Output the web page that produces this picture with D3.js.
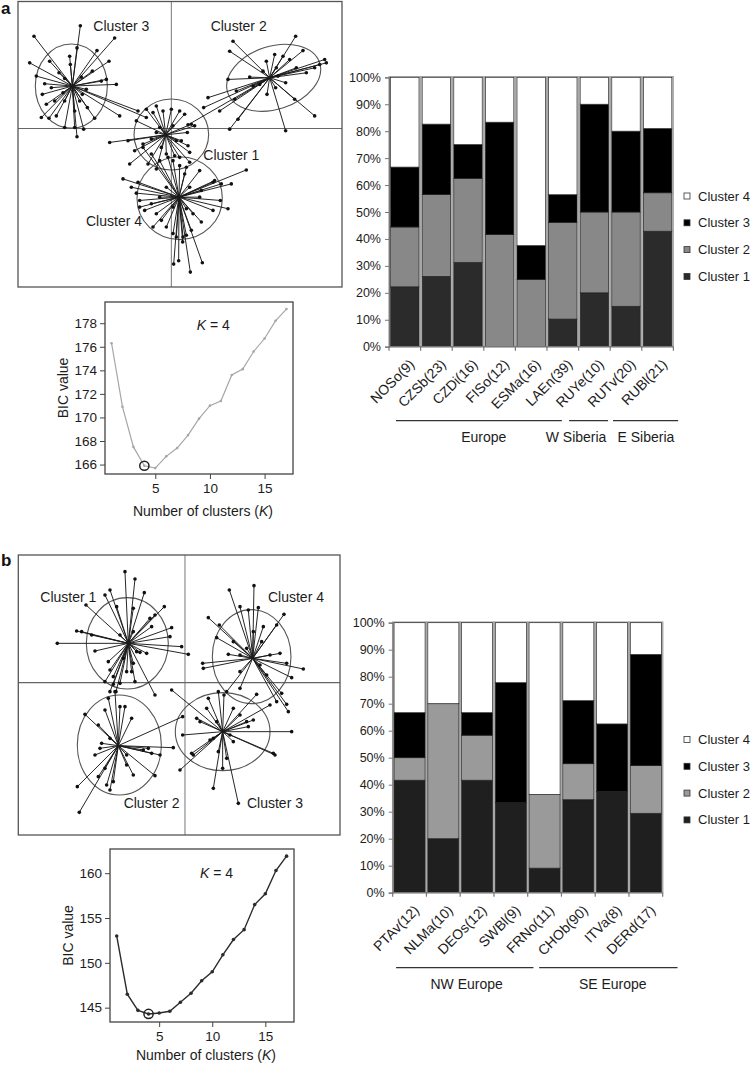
<!DOCTYPE html>
<html>
<head>
<meta charset="utf-8">
<script src="https://cdn.jsdelivr.net/npm/d3@7"></script>
<style>
  body { margin: 0; background: #fff; }
  svg { display: block; font-family: "Liberation Sans", Arial, Helvetica, sans-serif; }
</style>
</head>
<body>
<svg id="fig" width="753" height="1065"></svg>
<script>
/* ---------- panel a : cluster scores (PC1, PC2) ---------- */
const aCenters = [[-1.7, -1.9], [29.5, 15.3], [-29.7, 12.8], [2.3, -20.7]];
const aEllipses = [[0, -1.8, 11.2, 10.7, 0], [30.7, 15.3, 14.5, 9.5, -18], [-30, 12.8, 10.8, 12.7, 0], [2.5, -21, 12.8, 12.5, 0]];
const aPts1 = [[-4.5,6.8],[-2.5,5.3],[0,5.8],[2.5,5.3],[4,4.3],[6,1.3],[7,0.8],[4.8,-1.2],[3,-3.7],[5,-5.2],[5.5,-7.2],[5.5,-10.2],[2.5,-8.7],[1,-8.2],[-1.5,-7.7],[-3,-5.7],[-6,-3.2],[-8.5,-4.7],[-11,-6.7],[-12.5,-10.7],[-5.5,4.8],[-7.5,5.8],[-10.5,2.3],[-13,-3.7],[-18.5,-4.2],[-7,-10.7],[-4.5,-12.2],[-3.5,0.3],[0.5,0.8],[-4.5,-1.2],[1.5,-3.7]];
const aPts2 = [[18.5,26.3],[17.5,23.3],[37.3,27.8],[39.5,23.5],[31,22.3],[33.5,21.8],[35.5,20.8],[46,20.8],[46.5,19.8],[43,18.3],[40.5,16.8],[37.5,18.3],[34.3,13.8],[31.3,12.3],[28.7,10.3],[37,8.8],[43,3.8],[34.3,-0.7],[17.5,-0.2],[19.5,11.3],[19,8.8],[14.5,5.3],[11,9.3],[9.7,6.3],[17,14.8],[23.5,15.5],[24.5,12.8],[32,15.8],[28.5,20.3],[5,1.1],[20,2.8],[44.5,19.3],[27.5,17.3],[31.5,18.3],[26.5,13.3]];
const aPts3 = [[-27.3,31],[-17,27.3],[-41.2,27.8],[-42.5,19.8],[-22.3,23.5],[-18.7,20.3],[-28.3,24.3],[-30.5,21.8],[-30.3,19.3],[-36.5,20.3],[-38,13.5],[-38.7,10.3],[-37.5,7.3],[-39,3.3],[-36.7,3.1],[-32,0.3],[-28.3,-2.5],[-26.3,-0.2],[-23,3.1],[-25.2,6.3],[-19.5,14.8],[-21,14.3],[-25.5,11.8],[-33.7,16.8],[-36,12.3],[-35,8.3],[-32,8.3],[-27.5,8.3],[-34.5,3.8],[-29,0.3],[-16.5,13.3],[-15.5,3.8],[-10,5.3],[-7.5,3.3],[-40.5,15.8],[-23.7,17.3],[-32,15.1],[-27,15.5],[-32.5,10.8],[-26.7,10.3],[-29,5.3]];
const aPts4 = [[-14.5,-15.2],[-10,-16.2],[-10.5,-19.5],[-9.5,-21.7],[-8,-24.7],[-6,-22.7],[-4.5,-25.7],[-3,-27.7],[-1.5,-29.7],[0.5,-31.7],[1.5,-32.7],[3.5,-32.7],[4.5,-32.2],[6,-30.7],[9,-28.2],[6.5,-25.7],[12.5,-24.7],[17,-24.2],[14.7,-21.7],[18,-16.7],[15,-16.7],[12.5,-16.2],[22.5,-12.5],[9,-18.7],[8.5,-20.7],[4,-13.7],[2.5,-11.2],[0.5,-9.7],[-1,-8.7],[-3.5,-9.7],[-6,-7.7],[-8.5,-5.7],[4.5,-11.7],[8.5,-12.7],[13,-15.7],[-12,-17.7],[-9.5,-23.7],[-5.5,-29.7],[0.7,-40.9],[2.2,-39.9],[5.7,-43.3],[9.3,-40.5],[3.4,-34.2],[-1.5,-17.7],[5.5,-17.7],[0.5,-23.7],[4.5,-24.2],[-3.5,-20.7]];

/* ---------- panel b : cluster scores ---------- */
const bCenters = [[-17, 11.8], [-20, -18.9], [11.3, -14.7], [20.3, 7.3]];
const bEllipses = [[-17.3, 11.8, 12.3, 13.7, 0], [-19.7, -18.7, 12.6, 15, 0], [11.3, -14.7, 14.2, 11.7, 0], [20, 7.8, 11.8, 14.1, 0]];
const bPts1 = [[-18,33.3],[-15,31.1],[-22.5,27.8],[-24,26.3],[-12.2,27],[-29.7,23.3],[-20.5,22.8],[-15.5,22.3],[-6.2,22.8],[-9,20.3],[-10.5,19.3],[-10,16.8],[-4,16.5],[-4.5,13.8],[-1,10.8],[1,8.5],[-11.5,8.8],[-13.5,9.1],[-38.3,11.8],[-32.5,15.5],[-31,15.3],[-28,14.3],[-27,9.5],[-23,6.3],[-22.5,3.8],[-24,0.3],[-21.5,-0.5],[-19.5,-0.2],[-17.5,3.3],[-15,0.3],[-9,-3.7],[-22.5,-2.7],[-20.7,-2.7],[-16,3.3],[-15.5,5.8],[-18.5,7.3],[-21.5,1.8],[-15.5,15.3],[-19.5,14.3],[-14.5,9.3]];
const bPts2 = [[-23,-4.7],[-21,-2.7],[-19.5,-7.2],[-18,-7.2],[-24,-8.2],[-30,-9.5],[-26,-12.7],[-25,-18.2],[-27,-21.7],[-25.5,-19.7],[-16,-10.7],[-11,-19.7],[-10,-21.2],[-12.5,-20.2],[-9,-27.9],[-15.5,-27.7],[-21.5,-29.7],[-22.5,-32.2],[-23.5,-30.7],[-26,-28.2],[-32.3,-31.2],[-31.7,-38.9],[-17.5,-24.7],[-3.5,-19.5],[-0.7,-10.2],[-7.5,-21.7],[-24,-25.7],[-22.5,-16.7],[-17.5,-21.7]];
const bPts3 = [[-4,-2.2],[7,-4.7],[10,-2.7],[11.7,-3.7],[14.5,-7.7],[18.5,-11.7],[19,-13.2],[16.5,-9.7],[21.5,-3.5],[32,-14.7],[26.5,-21.2],[27,-21.7],[16,-36.2],[8.5,-31.7],[11.3,-25.7],[12.5,-22.7],[10,-20.7],[2.5,-21.7],[2,-21.2],[-1.5,-26.2],[-0.7,-15.7],[4.5,-11.7],[3.5,-10.7],[6.5,-7.7],[13.5,-15.7],[7.5,-17.2],[25.5,-6.7],[20.5,-11.2],[9.5,-11.7],[14.5,-17.7],[8.5,-16.7]];
const bPts4 = [[13.3,27.8],[20.7,29.1],[16.5,22.8],[19,21.8],[22,22.5],[29.7,20.5],[27.5,17.3],[23.5,16.8],[7,19.5],[10.3,17.3],[9.5,13.5],[13,8.5],[5.3,5.8],[5.5,4.3],[28.5,8.8],[30.5,5.8],[35.5,4.1],[32,1.5],[29,-3.2],[30.5,-6.5],[31,-8.7],[27.5,-5.7],[12.5,-2.7],[16.5,-1.7],[24.5,2.3],[16.5,3.3],[14.5,12.3],[20.5,15.3],[23,12.3],[25.5,8.3],[18.5,10.3],[22.5,5.3],[16.5,8.3]];

/* ---------- BIC curves ---------- */
const kValues = d3.range(1, 18);
const bicA = [176.3, 170.9, 167.5, 165.9, 165.7, 166.7, 167.4, 168.5, 169.9, 171.0, 171.4, 173.6, 174.1, 175.6, 176.7, 178.2, 179.2];
const bicB = [153.0, 146.5, 144.7, 144.3, 144.4, 144.6, 145.6, 146.6, 148.0, 149.0, 150.9, 152.6, 153.7, 156.5, 157.7, 160.3, 161.9];
const bicTicksA = [166, 168, 170, 172, 174, 176, 178];
const bicTicksB = [145, 150, 155, 160];

/* ---------- population membership counts ---------- */
const clusterNames = ['Cluster 1', 'Cluster 2', 'Cluster 3', 'Cluster 4'];
const popsA = ['NOSo(9)', 'CZSb(23)', 'CZDi(16)', 'FISo(12)', 'ESMa(16)', 'LAEn(39)', 'RUYe(10)', 'RUTv(20)', 'RUBl(21)'];
const c1A = [2, 6, 5, 0, 0, 4, 2, 3, 9];
const c2A = [2, 7, 5, 5, 4, 14, 3, 7, 3];
const c3A = [2, 6, 2, 5, 2, 4, 4, 6, 5];
const c4A = [3, 4, 4, 2, 10, 17, 1, 4, 4];
const groupsA = ['Europe', 'W Siberia', 'E Siberia'];

const popsB = ['PTAv(12)', 'NLMa(10)', 'DEOs(12)', 'SWBl(9)', 'FRNo(11)', 'CHOb(90)', 'ITVa(8)', 'DERd(17)'];
const c1B = [5, 2, 5, 3, 1, 31, 3, 5];
const c2B = [1, 5, 2, 0, 3, 12, 0, 3];
const c3B = [2, 0, 1, 4, 0, 21, 2, 7];
const c4B = [4, 3, 4, 2, 7, 26, 3, 2];
const groupsB = ['NW Europe', 'SE Europe'];

const pctTicks = d3.range(0, 1.01, 0.1);
const INK = '#1c1c1c';
const svg = d3.select('#fig');

/* bracket extents under the bars, in bar steps: [start, end, label centre] */
const bracketsA = [[0.22, 5.47, 3.0], [5.7, 6.93, 5.92], [7.09, 9.15, 8.13]];
const bracketsB = [[0.1, 4.17, 2.19], [4.34, 8.44, 6.52]];

/* ================================================================ */
function scatter(o) {
  const g = svg.append('g');
  const x = d3.scaleLinear().domain(o.xd).range(o.xr);
  const y = d3.scaleLinear().domain(o.yd).range(o.yr);
  const k = Math.abs(x(1) - x(0)), ky = Math.abs(y(1) - y(0));

  g.append('line').attr('x1', x(0)).attr('x2', x(0)).attr('y1', o.yr[0]).attr('y2', o.yr[1])
    .attr('stroke', '#777').attr('stroke-width', 1);
  g.append('line').attr('x1', o.xr[0]).attr('x2', o.xr[1]).attr('y1', y(0)).attr('y2', y(0))
    .attr('stroke', '#666').attr('stroke-width', 1.2);

  o.ellipses.forEach(e => {
    g.append('ellipse').attr('cx', x(e[0])).attr('cy', y(e[1]))
      .attr('rx', e[2] * k).attr('ry', e[3] * ky)
      .attr('transform', `rotate(${e[4]},${x(e[0])},${y(e[1])})`)
      .attr('fill', 'none').attr('stroke', '#555').attr('stroke-width', 1.1);
  });

  o.points.forEach((pts, i) => {
    const c = o.centers[i];
    g.append('g').selectAll('line').data(pts).join('line')
      .attr('x1', x(c[0])).attr('y1', y(c[1]))
      .attr('x2', d => x(d[0])).attr('y2', d => y(d[1]))
      .attr('stroke', '#1a1a1a').attr('stroke-width', 0.95);
  });
  o.points.forEach(pts => {
    g.append('g').selectAll('circle').data(pts).join('circle')
      .attr('cx', d => x(d[0])).attr('cy', d => y(d[1])).attr('r', 1.8).attr('fill', '#111');
  });

  g.append('rect').attr('x', o.xr[0]).attr('y', o.yr[0])
    .attr('width', o.xr[1] - o.xr[0]).attr('height', o.yr[1] - o.yr[0])
    .attr('fill', 'none').attr('stroke', '#555').attr('stroke-width', 1.3);

  o.labels.forEach((p, i) => {
    g.append('text').attr('x', x(p[0])).attr('y', y(p[1])).attr('dy', '.35em')
      .attr('text-anchor', 'middle').style('font-size', '14px').attr('fill', INK)
      .text(clusterNames[i]);
  });
}

function bicPlot(o) {
  const g = svg.append('g');
  const x = d3.scaleLinear().domain(o.xd).range([o.box[0], o.box[1]]);
  const y = d3.scaleLinear().domain(o.yd).range([o.box[3], o.box[2]]);

  g.append('rect').attr('x', o.box[0]).attr('y', o.box[2])
    .attr('width', o.box[1] - o.box[0]).attr('height', o.box[3] - o.box[2])
    .attr('fill', 'none').attr('stroke', '#444').attr('stroke-width', 1.3);

  const ax = g.append('g').attr('transform', `translate(${o.box[0]},0)`)
    .call(d3.axisLeft(y).tickValues(o.ticks).tickSize(5).tickPadding(3));
  const bx = g.append('g').attr('transform', `translate(0,${o.box[3]})`)
    .call(d3.axisBottom(x).tickValues([5, 10, 15]).tickSize(5).tickPadding(4));
  [ax, bx].forEach(a => {
    a.select('.domain').remove();
    a.selectAll('line').attr('stroke', '#444');
    a.selectAll('text').style('font-size', '13.5px').attr('fill', INK)
      .style('font-family', '"Liberation Sans", Arial, sans-serif');
  });

  const line = d3.line().x((d, i) => x(kValues[i])).y(d => y(d));
  g.append('path').datum(o.values).attr('d', line).attr('fill', 'none')
    .attr('stroke', o.color).attr('stroke-width', o.lw);
  g.selectAll('circle.pt').data(o.values).join('circle').attr('class', 'pt')
    .attr('cx', (d, i) => x(kValues[i])).attr('cy', d => y(d)).attr('r', o.r).attr('fill', o.color);
  g.append('circle').attr('cx', x(kValues[3])).attr('cy', y(o.values[3])).attr('r', 4.6)
    .attr('fill', 'none').attr('stroke', '#222').attr('stroke-width', 1.5);

  const kt = g.append('text').attr('x', x(o.kpos[0])).attr('y', y(o.kpos[1])).attr('dy', '.35em')
    .attr('text-anchor', 'middle').style('font-size', '14px').attr('fill', INK);
  kt.append('tspan').style('font-style', 'italic').text('K');
  kt.append('tspan').text(' = 4');

  g.append('text').attr('transform', `translate(${o.box[0] - 42},${(o.box[2] + o.box[3]) / 2}) rotate(-90)`)
    .attr('text-anchor', 'middle').attr('dy', '.35em').style('font-size', '14px').attr('fill', INK)
    .text('BIC value');
  const xl = g.append('text').attr('x', (o.box[0] + o.box[1]) / 2 + 4).attr('y', o.box[3] + o.titleDy)
    .attr('text-anchor', 'middle').style('font-size', '14px').attr('fill', INK);
  xl.append('tspan').text('Number of clusters (');
  xl.append('tspan').style('font-style', 'italic').text('K');
  xl.append('tspan').text(')');
}

function stackedBars(o) {
  const g = svg.append('g');
  const x = d3.scaleBand().domain(o.pops).range(o.xr).paddingInner(o.pad).paddingOuter(o.pad / 2);
  const y = d3.scaleLinear().domain([0, 1]).range(o.yr);
  const rows = o.pops.map((p, i) => {
    const counts = o.counts.map(c => c[i]);
    const n = d3.sum(counts);
    const r = { pop: p };
    clusterNames.forEach((c, j) => r[c] = counts[j] / n);
    return r;
  });
  const series = d3.stack().keys(clusterNames)(rows);

  // bar outlines
  g.append('g').selectAll('rect').data(rows).join('rect')
    .attr('x', d => x(d.pop) - 1.3).attr('y', y(1) - 0.5)
    .attr('width', x.bandwidth() + 2.6).attr('height', y(0) - y(1) + 0.5)
    .attr('fill', 'none').attr('stroke', '#a8a8a8').attr('stroke-width', 1.6);

  series.forEach((s, j) => {
    g.append('g').selectAll('rect').data(s).join('rect')
      .attr('x', d => x(d.data.pop)).attr('width', x.bandwidth())
      .attr('y', d => y(d[1])).attr('height', d => y(d[0]) - y(d[1]))
      .attr('fill', o.colors[j]).attr('stroke', '#222').attr('stroke-width', 0.7);
  });

  // y axis
  const ya = g.append('g').attr('transform', `translate(${o.xr[0]},0)`)
    .call(d3.axisLeft(y).tickValues(pctTicks).tickFormat(d3.format('.0%')).tickSize(4).tickPadding(4));
  ya.select('.domain').attr('stroke', '#777').attr('stroke-width', 1.3);
  ya.selectAll('line').attr('stroke', '#777');
  ya.selectAll('text').style('font-size', '12.5px').attr('fill', INK)
    .style('font-family', '"Liberation Sans", Arial, sans-serif');

  // x axis with ticks at bar boundaries
  g.append('line').attr('x1', o.xr[0]).attr('x2', o.xr[1]).attr('y1', y(0)).attr('y2', y(0))
    .attr('stroke', '#777').attr('stroke-width', 1.3);
  const bounds = d3.range(o.pops.length + 1).map(i => o.xr[0] + i * x.step());
  g.append('g').selectAll('line').data(bounds).join('line')
    .attr('x1', d => d).attr('x2', d => d).attr('y1', y(0)).attr('y2', y(0) + 4)
    .attr('stroke', '#777').attr('stroke-width', 1.2);

  g.append('g').selectAll('text').data(o.pops).join('text')
    .attr('transform', d => `translate(${x(d) + x.bandwidth() / 2 + 7},${y(0) + 15}) rotate(-45)`)
    .attr('text-anchor', 'end').attr('dy', '.35em').style('font-size', '14px').attr('fill', INK)
    .text(d => d);

  // region brackets
  const gy = y(0) + o.groupDy;
  o.groups.forEach((name, i) => {
    const [s, e, c] = o.brackets[i];
    const x1 = o.xr[0] + s * x.step(), x2 = o.xr[0] + e * x.step();
    g.append('line').attr('x1', x1).attr('x2', x2).attr('y1', gy).attr('y2', gy)
      .attr('stroke', '#333').attr('stroke-width', 1.3);
    g.append('text').attr('x', o.xr[0] + c * x.step()).attr('y', gy + 16).attr('dy', '.35em')
      .attr('text-anchor', 'middle').style('font-size', '14px').attr('fill', INK).text(name);
  });

  // legend
  const lg = g.append('g');
  clusterNames.slice().reverse().forEach((c, i) => {
    const j = clusterNames.length - 1 - i;
    const ly = o.legendY + i * 26.8;
    lg.append('rect').attr('x', 684).attr('y', ly - 3).attr('width', 6).attr('height', 6)
      .attr('fill', o.colors[j]).attr('stroke', '#333').attr('stroke-width', 0.8);
    lg.append('text').attr('x', 698).attr('y', ly).attr('dy', '.35em')
      .style('font-size', '13px').attr('fill', INK).text(c);
  });
}

/* ================================================================ */
svg.append('text').attr('x', 1).attr('y', 14).style('font-size', '17px').style('font-weight', 'bold')
  .attr('fill', '#111').text('a');
svg.append('text').attr('x', 1).attr('y', 566).style('font-size', '17px').style('font-weight', 'bold')
  .attr('fill', '#111').text('b');

scatter({
  xd: [-46, 51.2], xr: [18, 342], yd: [38.3, -47.8], yr: [1.5, 287],
  centers: aCenters, ellipses: aEllipses, points: [aPts1, aPts2, aPts3, aPts4],
  labels: [[18, -7.9], [20.2, 30.8], [-15, 30.8], [-17.2, -27.9]]
});
scatter({
  xd: [-50, 46.5], xr: [18.3, 340], yd: [38.3, -45.7], yr: [555, 835],
  centers: bCenters, ellipses: bEllipses, points: [bPts1, bPts2, bPts3, bPts4],
  labels: [[-35, 25.8], [-10, -36.2], [27, -36.2], [33.3, 25.8]]
});

bicPlot({ box: [105, 293, 302, 474], xd: [0.4, 17.6], yd: [165.2, 179.8], ticks: bicTicksA,
  values: bicA, color: '#a6a6a6', lw: 1.2, r: 1.3, kpos: [10.3, 177.8], titleDy: 42 });
bicPlot({ box: [110, 294, 849, 1022], xd: [0.37, 17.7], yd: [143.4, 162.7], ticks: bicTicksB,
  values: bicB, color: '#2b2b2b', lw: 1.4, r: 1.8, kpos: [10.4, 160], titleDy: 38 });

stackedBars({ pops: popsA, counts: [c1A, c2A, c3A, c4A], xr: [389, 673.4], yr: [346.7, 77.3], pad: 0.1,
  colors: ['#2b2b2b', '#888888', '#000000', '#ffffff'], groups: groupsA, brackets: bracketsA,
  groupDy: 74, legendY: 196 });
stackedBars({ pops: popsB, counts: [c1B, c2B, c3B, c4B], xr: [392.7, 662.7], yr: [892.7, 622.7], pad: 0.08,
  colors: ['#1f1f1f', '#9a9a9a', '#000000', '#ffffff'], groups: groupsB, brackets: bracketsB,
  groupDy: 75, legendY: 739.5 });
</script>
</body>
</html>
